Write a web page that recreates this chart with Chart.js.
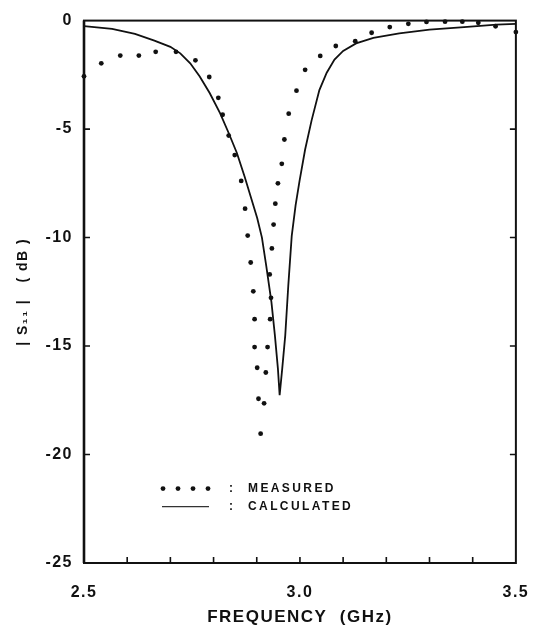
<!DOCTYPE html>
<html lang="en">
<head>
<meta charset="UTF-8">
<title>|S11| vs frequency</title>
<script src="https://cdn.jsdelivr.net/npm/chart.js"></script>
<style>
  html, body { margin: 0; padding: 0; background: #fff; }
</style>
</head>
<body>
<canvas id="s11Chart" width="547" height="632"></canvas>
<script>
// measured points (dots)
const measuredFreq = [2.500, 2.540, 2.584, 2.627, 2.666, 2.713, 2.758, 2.790, 2.811, 2.821,
    2.835, 2.849, 2.864, 2.873, 2.879, 2.886, 2.892, 2.895, 2.895, 2.901,
    2.904, 2.909, 2.917, 2.921, 2.925, 2.931, 2.933, 2.930, 2.935, 2.939,
    2.943, 2.949, 2.958, 2.964, 2.974, 2.992, 3.012, 3.047, 3.083, 3.128,
    3.166, 3.208, 3.251, 3.293, 3.336, 3.376, 3.413, 3.453, 3.500];
const measuredS11 = [-2.57, -1.97, -1.61, -1.61, -1.44, -1.44, -1.83, -2.60, -3.56, -4.34,
    -5.30, -6.20, -7.39, -8.67, -9.91, -11.15, -12.48, -13.76, -15.05, -16.00,
    -17.43, -19.04, -17.64, -16.22, -15.05, -13.76, -12.78, -11.70, -10.50, -9.40,
    -8.44, -7.50, -6.60, -5.48, -4.29, -3.23, -2.27, -1.63, -1.17, -0.95,
    -0.56, -0.30, -0.15, -0.06, -0.05, -0.05, -0.10, -0.26, -0.53];

// calculated curve (solid line)
const calcFreq = [2.500, 2.565, 2.618, 2.663, 2.700, 2.723, 2.746, 2.768, 2.791, 2.815,
    2.835, 2.854, 2.872, 2.888, 2.901, 2.912, 2.922, 2.934, 2.942, 2.949,
    2.953, 2.959, 2.966, 2.973, 2.981, 2.990, 2.999, 3.012, 3.027, 3.045,
    3.062, 3.080, 3.100, 3.130, 3.170, 3.230, 3.300, 3.380, 3.455, 3.500];
const calcS11 = [-0.25, -0.38, -0.61, -0.92, -1.21, -1.51, -1.97, -2.58, -3.34, -4.26,
    -5.18, -6.10, -7.20, -8.25, -9.10, -10.00, -11.30, -12.98, -14.51, -16.04,
    -17.26, -16.04, -14.51, -12.22, -9.92, -8.50, -7.40, -5.94, -4.60, -3.20,
    -2.40, -1.80, -1.40, -1.05, -0.80, -0.59, -0.42, -0.30, -0.19, -0.15];

const xTickLabels = ['2.5', '3.0', '3.5'];
const legendLabels = ['MEASURED', 'CALCULATED'];

const ink = '#111';
const tickFont = { family: 'Liberation Sans', size: 16, weight: 'bold' };

// spaced-out lettering like the original typewriter labels
const spacing = {
    id: 'spacing',
    beforeDraw(chart) { chart.ctx.letterSpacing = '1.5px'; },
    afterDraw(chart) { chart.ctx.letterSpacing = '0px'; }
};

// box round the plot and inward tick marks
const frame = {
    id: 'frame',
    beforeDatasetsDraw(chart) {
        const { ctx, chartArea: a, scales: { x, y } } = chart;
        ctx.save();
        ctx.strokeStyle = ink;
        ctx.lineWidth = 2;
        ctx.strokeRect(a.left, a.top, a.right - a.left, a.bottom - a.top);
        ctx.lineWidth = 2.6;
        ctx.beginPath();
        ctx.moveTo(a.left, a.top);
        ctx.lineTo(a.left, a.bottom);
        ctx.stroke();
        ctx.lineWidth = 1.6;
        ctx.beginPath();
        x.ticks.forEach(t => {
            if (t.value <= 2.5001 || t.value >= 3.4999) return;
            const px = x.getPixelForValue(t.value);
            ctx.moveTo(px, a.bottom);
            ctx.lineTo(px, a.bottom - 6);
        });
        y.ticks.forEach(t => {
            if (t.value === 0 || t.value === -25) return;
            const py = y.getPixelForValue(t.value);
            ctx.moveTo(a.left, py);
            ctx.lineTo(a.left + 6, py);
            ctx.moveTo(a.right, py);
            ctx.lineTo(a.right - 6, py);
        });
        ctx.stroke();
        ctx.restore();
    }
};

// legend drawn inside the plot, lower left
const innerLegend = {
    id: 'innerLegend',
    afterDraw(chart) {
        const { ctx, chartArea: a } = chart;
        const x0 = a.left + 79;
        const rows = [a.top + 468, a.top + 486];
        ctx.save();
        ctx.fillStyle = ink;
        ctx.strokeStyle = '#333';
        for (let i = 0; i < 4; i++) {
            ctx.beginPath();
            ctx.arc(x0 + i * 15, rows[0], 2.4, 0, Math.PI * 2);
            ctx.fill();
        }
        ctx.lineWidth = 1.2;
        ctx.beginPath();
        ctx.moveTo(x0 - 1, rows[1]);
        ctx.lineTo(x0 + 46, rows[1]);
        ctx.stroke();
        ctx.font = 'bold 12px "Liberation Sans"';
        ctx.letterSpacing = '2.4px';
        ctx.textBaseline = 'middle';
        legendLabels.forEach((label, i) => {
            ctx.fillText(':', x0 + 66, rows[i]);
            ctx.fillText(label, x0 + 85, rows[i]);
        });
        ctx.restore();
    }
};

const ctx = document.getElementById('s11Chart').getContext('2d');
const s11Chart = new Chart(ctx, {
    type: 'scatter',
    data: {
        datasets: [
            {
                label: 'MEASURED',
                data: measuredFreq.map((f, i) => ({ x: f, y: measuredS11[i] })),
                pointRadius: 2.4,
                pointBackgroundColor: ink,
                pointBorderWidth: 0,
                showLine: false,
                clip: false
            },
            {
                label: 'CALCULATED',
                data: calcFreq.map((f, i) => ({ x: f, y: calcS11[i] })),
                showLine: true,
                borderColor: ink,
                borderWidth: 1.8,
                pointRadius: 0,
                tension: 0
            }
        ]
    },
    options: {
        responsive: false,
        animation: false,
        devicePixelRatio: 1,
        layout: { padding: { top: 17, right: 19, left: 0, bottom: 0 } },
        plugins: {
            legend: { display: false },
            tooltip: { enabled: false }
        },
        scales: {
            x: {
                type: 'linear',
                min: 2.5,
                max: 3.5,
                grid: { display: false, drawTicks: false },
                border: { display: false },
                ticks: {
                    stepSize: 0.1,
                    autoSkip: false,
                    maxRotation: 0,
                    padding: 20,
                    color: ink,
                    font: tickFont,
                    callback: v => {
                        const s = Number(v).toFixed(1);
                        return xTickLabels.includes(s) ? s : '';
                    }
                },
                title: {
                    display: true,
                    text: 'FREQUENCY  (GHz)',
                    color: ink,
                    font: { family: 'Liberation Sans', size: 17, weight: 'bold' },
                    padding: { top: 0, bottom: 4 }
                },
                afterFit: s => { s.height = 69; }
            },
            y: {
                min: -25,
                max: 0,
                grid: { display: false, drawTicks: false },
                border: { display: false },
                ticks: {
                    stepSize: 5,
                    padding: 11,
                    color: ink,
                    font: tickFont
                },
                title: {
                    display: true,
                    text: '| S₁₁ |   ( dB )',
                    color: ink,
                    font: { family: 'Liberation Sans', size: 14, weight: 'bold' },
                    padding: { top: 15, bottom: 0 }
                },
                afterFit: s => { s.width = 84; }
            }
        }
    },
    plugins: [spacing, frame, innerLegend]
});
</script>
</body>
</html>
